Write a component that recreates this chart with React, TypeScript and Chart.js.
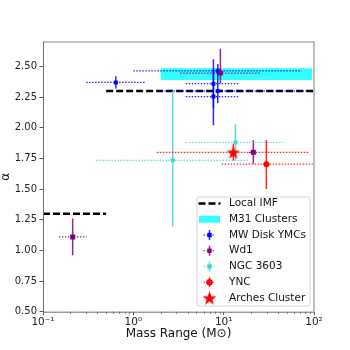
import React, { useEffect, useRef } from "react";
import { Chart, registerables } from "chart.js";
Chart.register(...registerables);

// ---- axis ticks ----
const X_TICKS = [0.1, 1, 10, 100];
const X_TICK_LABELS = ["10\u207B\u00B9", "10\u2070", "10\u00B9", "10\u00B2"];
const Y_TICKS = [0.5, 0.75, 1.0, 1.25, 1.5, 1.75, 2.0, 2.25, 2.5];

// ---- Local IMF ----
const IMF_LOW_X = [0.1, 0.5];
const IMF_LOW_Y = [1.3, 1.3];
const IMF_HIGH_X = [0.5, 100];
const IMF_HIGH_Y = [2.3, 2.3];

// ---- M31 clusters band ----
const M31_X = [2, 95];
const M31_Y_LOW = [2.39, 2.39];
const M31_Y_HIGH = [2.485, 2.485];

// ---- MW Disk YMCs ----
const MW_X = [0.64, 7.7, 7.7, 8.6, 8.6];
const MW_Y = [2.37, 2.36, 2.255, 2.465, 2.3];
const MW_XLO = [0.3, 3.8, 3.8, 1.0, 1.9];
const MW_XHI = [1.37, 15, 15, 73, 95];
const MW_YLO = [2.32, 2.16, 2.02, 2.4, 2.2];
const MW_YHI = [2.42, 2.56, 2.48, 2.52, 2.4];

// ---- Wd1 ----
const WD1_X = [0.213, 9.2, 21.3];
const WD1_Y = [1.11, 2.446, 1.8];
const WD1_XLO = [0.15, 3.3, 19];
const WD1_XHI = [0.305, 25.3, 24];
const WD1_YLO = [0.96, 2.364, 1.706];
const WD1_YHI = [1.26, 2.644, 1.9];

// ---- NGC 3603 ----
const NGC_X = [2.73, 13.5];
const NGC_Y = [1.735, 1.88];
const NGC_XLO = [0.39, 3.84];
const NGC_XHI = [18.8, 45.8];
const NGC_YLO = [1.194, 1.738];
const NGC_YHI = [2.3, 2.032];

// ---- YNC ----
const YNC_X = [29.7];
const YNC_Y = [1.703];
const YNC_XLO = [9.5];
const YNC_XHI = [97];
const YNC_YLO = [1.5];
const YNC_YHI = [1.9];

// ---- Arches ----
const ARCH_X = [12.8];
const ARCH_Y = [1.8];
const ARCH_XLO = [1.82];
const ARCH_XHI = [90];
const ARCH_YLO = [1.733];
const ARCH_YHI = [1.869];

const FONT = "'DejaVu Sans', sans-serif";

type Series = {
  name: string;
  color: string;
  x: number[];
  y: number[];
  xlo: number[];
  xhi: number[];
  ylo: number[];
  yhi: number[];
  marker: string;
};

const SERIES: Series[] = [
  { name: "MW Disk YMCs", color: "#0000ff", x: MW_X, y: MW_Y, xlo: MW_XLO, xhi: MW_XHI, ylo: MW_YLO, yhi: MW_YHI, marker: "rect" },
  { name: "Wd1", color: "#800080", x: WD1_X, y: WD1_Y, xlo: WD1_XLO, xhi: WD1_XHI, ylo: WD1_YLO, yhi: WD1_YHI, marker: "rect" },
  { name: "NGC 3603", color: "#48d1cc", x: NGC_X, y: NGC_Y, xlo: NGC_XLO, xhi: NGC_XHI, ylo: NGC_YLO, yhi: NGC_YHI, marker: "rect" },
  { name: "YNC", color: "#ff0000", x: YNC_X, y: YNC_Y, xlo: YNC_XLO, xhi: YNC_XHI, ylo: YNC_YLO, yhi: YNC_YHI, marker: "circle" },
  { name: "Arches Cluster", color: "#ff0000", x: ARCH_X, y: ARCH_Y, xlo: ARCH_XLO, xhi: ARCH_XHI, ylo: ARCH_YLO, yhi: ARCH_YHI, marker: "star" },
];

const zip = (xs: number[], ys: number[]) => xs.map((x, i) => ({ x, y: ys[i] }));

function makeStar(size: number, color: string) {
  const c = document.createElement("canvas");
  c.width = size;
  c.height = size;
  const g = c.getContext("2d")!;
  const cx = size / 2, cy = size / 2 + 0.6;
  const R = size / 2, r = R * 0.4;
  g.beginPath();
  for (let i = 0; i < 10; i++) {
    const ang = -Math.PI / 2 + (i * Math.PI) / 5;
    const rad = i % 2 === 0 ? R : r;
    const px = cx + rad * Math.cos(ang), py = cy + rad * Math.sin(ang);
    if (i === 0) g.moveTo(px, py); else g.lineTo(px, py);
  }
  g.closePath();
  g.fillStyle = color;
  g.fill();
  return c;
}

function drawErr(ctx: CanvasRenderingContext2D, color: string, px: number, py: number, x0: number, x1: number, y0: number, y1: number) {
  ctx.save();
  ctx.strokeStyle = color;
  ctx.globalAlpha = 0.85;
  ctx.lineWidth = 1.2;
  ctx.setLineDash([1.5, 1.5]);
  ctx.beginPath();
  ctx.moveTo(x0, py);
  ctx.lineTo(x1, py);
  ctx.stroke();
  ctx.setLineDash([]);
  ctx.lineWidth = 1.5;
  ctx.beginPath();
  ctx.moveTo(px, y0);
  ctx.lineTo(px, y1);
  ctx.stroke();
  ctx.restore();
}

export default function App() {
  const ref = useRef<HTMLCanvasElement | null>(null);

  useEffect(() => {
    document.body.style.margin = "0";
    const star = makeStar(14, "#ff0000");
    const starSmall = makeStar(15, "#ff0000");

    const scatterSets = SERIES.map((s) => ({
      type: "scatter" as const,
      label: s.name,
      data: zip(s.x, s.y),
      backgroundColor: s.color,
      borderColor: s.color,
      borderWidth: 0,
      pointStyle: s.marker === "star" ? star : s.marker,
      pointRadius: s.marker === "circle" ? 3 : s.name === "Wd1" ? 3.5 : 2.8,
    }));
    // draw order in Chart.js: highest index drawn first
    const ordered = [...scatterSets].reverse();
    const firstScatterIdx = ordered.length - 1;

    const lineStyle = {
      type: "line" as const,
      showLine: true,
      pointRadius: 0,
      borderColor: "#000",
      borderWidth: 2.5,
      borderDash: [7, 3],
      fill: false,
    };

    const datasets: any[] = [
      ...ordered,
      { type: "line", label: "m31lo", data: zip(M31_X, M31_Y_LOW), showLine: true, pointRadius: 0, borderWidth: 0, borderColor: "rgba(0,0,0,0)", fill: false },
      { type: "line", label: "M31 Clusters", data: zip(M31_X, M31_Y_HIGH), showLine: true, pointRadius: 0, borderWidth: 0, borderColor: "rgba(0,0,0,0)", backgroundColor: "rgba(0,255,255,0.8)", fill: "-1" },
      { ...lineStyle, label: "imfHigh", data: zip(IMF_HIGH_X, IMF_HIGH_Y) },
      { ...lineStyle, label: "Local IMF", data: zip(IMF_LOW_X, IMF_LOW_Y) },
    ];

    const errPlugin = {
      id: "errbars",
      beforeDatasetDraw(chart: any, args: any) {
        if (args.index !== firstScatterIdx) return;
        const xs = chart.scales.x, ys = chart.scales.y;
        const ctx = chart.ctx as CanvasRenderingContext2D;
        const a = chart.chartArea;
        ctx.save();
        ctx.beginPath();
        ctx.rect(a.left, a.top, a.right - a.left, a.bottom - a.top);
        ctx.clip();
        for (const s of SERIES) {
          for (let i = 0; i < s.x.length; i++) {
            drawErr(
              ctx, s.color,
              xs.getPixelForValue(s.x[i]), ys.getPixelForValue(s.y[i]),
              xs.getPixelForValue(s.xlo[i]), xs.getPixelForValue(s.xhi[i]),
              ys.getPixelForValue(s.ylo[i]), ys.getPixelForValue(s.yhi[i])
            );
          }
        }
        ctx.restore();
      },
    };

    const framePlugin = {
      id: "frame",
      afterDatasetsDraw(chart: any) {
        const ctx = chart.ctx as CanvasRenderingContext2D;
        const a = chart.chartArea;
        const xs = chart.scales.x;
        ctx.save();
        // minor ticks on log x axis
        ctx.strokeStyle = "#555";
        ctx.lineWidth = 0.8;
        for (let d = 0; d < X_TICKS.length - 1; d++) {
          for (let k = 2; k <= 9; k++) {
            const px = Math.round(xs.getPixelForValue(X_TICKS[d] * k)) + 0.5;
            ctx.beginPath();
            ctx.moveTo(px, a.bottom);
            ctx.lineTo(px, a.bottom + 2.2);
            ctx.stroke();
          }
        }
        // spines
        ctx.strokeStyle = "#b0b0b0";
        ctx.lineWidth = 1.6;
        ctx.beginPath();
        ctx.moveTo(a.left, a.top);
        ctx.lineTo(a.right, a.top);
        ctx.lineTo(a.right, a.bottom);
        ctx.stroke();
        ctx.strokeStyle = "#6e6e6e";
        ctx.lineWidth = 1;
        ctx.beginPath();
        ctx.moveTo(a.left + 0.5, a.top);
        ctx.lineTo(a.left + 0.5, a.bottom + 0.5);
        ctx.lineTo(a.right, a.bottom + 0.5);
        ctx.stroke();
        ctx.restore();
      },
      afterDraw(chart: any) {
        const ctx = chart.ctx as CanvasRenderingContext2D;
        const a = chart.chartArea;
        const bw = 113, bh = 109;
        const bx = a.right - 4 - bw, by = a.bottom - 5.7 - bh;
        ctx.save();
        ctx.fillStyle = "rgba(255,255,255,0.85)";
        ctx.strokeStyle = "#d6d6d6";
        ctx.lineWidth = 1;
        const r = 2;
        ctx.beginPath();
        ctx.moveTo(bx + r, by);
        ctx.lineTo(bx + bw - r, by);
        ctx.arcTo(bx + bw, by, bx + bw, by + r, r);
        ctx.lineTo(bx + bw, by + bh - r);
        ctx.arcTo(bx + bw, by + bh, bx + bw - r, by + bh, r);
        ctx.lineTo(bx + r, by + bh);
        ctx.arcTo(bx, by + bh, bx, by + bh - r, r);
        ctx.lineTo(bx, by + r);
        ctx.arcTo(bx, by, bx + r, by, r);
        ctx.closePath();
        ctx.fill();
        ctx.stroke();

        const hx = bx + 12.5; // handle center
        const tx = bx + 32;
        const row0 = by + 6.5;
        const step = 15.75;
        const labels = ["Local IMF", "M31 Clusters", ...SERIES.map((s) => s.name)];
        ctx.font = `10.5px ${FONT}`;
        ctx.textBaseline = "middle";
        ctx.fillStyle = "#111";
        labels.forEach((lab, i) => ctx.fillText(lab, tx, row0 + i * step));

        // Local IMF
        let cy = row0;
        ctx.strokeStyle = "#000";
        ctx.lineWidth = 2.5;
        ctx.setLineDash([7, 3]);
        ctx.beginPath();
        ctx.moveTo(hx - 11, cy);
        ctx.lineTo(hx + 11, cy);
        ctx.stroke();
        ctx.setLineDash([]);
        // M31
        cy = row0 + step;
        ctx.fillStyle = "rgba(0,255,255,0.8)";
        ctx.fillRect(hx - 10.5, cy - 3.5, 21, 7);
        // error-bar series
        SERIES.forEach((s, i) => {
          const y = row0 + (i + 2) * step;
          if (s.marker !== "star") {
            drawErr(ctx, s.color, hx, y, hx - 6, hx + 6, y - 5, y + 5);
          }
          ctx.fillStyle = s.color;
          if (s.marker === "rect") {
            ctx.fillRect(hx - 2.2, y - 2.2, 4.4, 4.4);
          } else if (s.marker === "circle") {
            ctx.beginPath();
            ctx.arc(hx, y, 3.2, 0, Math.PI * 2);
            ctx.fill();
          } else {
            ctx.drawImage(starSmall, hx - 7.5, y - 7.5);
          }
        });
        ctx.restore();
      },
    };

    const chart = new Chart(ref.current!, {
      type: "scatter",
      data: { datasets },
      options: {
        animation: false,
        responsive: true,
        maintainAspectRatio: false,
        layout: { padding: { top: 42, right: 36, left: 0, bottom: 0 } },
        plugins: { legend: { display: false }, tooltip: { enabled: false } },
        scales: {
          x: {
            type: "logarithmic",
            min: 0.1,
            max: 100,
            afterBuildTicks: (s: any) => {
              s.ticks = X_TICKS.map((v) => ({ value: v }));
            },
            afterFit: (s: any) => {
              s.height = 38.3;
            },
            grid: { display: true, drawOnChartArea: false, drawTicks: true, tickLength: 3.5, color: "#555" },
            border: { display: false },
            ticks: {
              autoSkip: false,
              maxRotation: 0,
              padding: 1,
              color: "#222",
              font: { family: FONT, size: 10.5 },
              callback: (_v: any, i: number) => X_TICK_LABELS[i],
            },
            title: {
              display: true,
              text: "Mass Range (M\u2299)",
              color: "#111",
              font: { family: FONT, size: 12 },
              padding: { top: 0, bottom: 9 },
            },
          },
          y: {
            type: "linear",
            min: 0.5,
            max: 2.7,
            afterBuildTicks: (s: any) => {
              s.ticks = Y_TICKS.map((v) => ({ value: v }));
            },
            afterFit: (s: any) => {
              s.width = 43;
            },
            grid: { display: true, drawOnChartArea: false, drawTicks: true, tickLength: 3.5, color: "#555" },
            border: { display: false },
            ticks: {
              autoSkip: false,
              padding: 2.5,
              color: "#222",
              font: { family: FONT, size: 10 },
              callback: (v: any) => Number(v).toFixed(2),
            },
            title: {
              display: true,
              text: "\u03B1",
              color: "#111",
              font: { family: FONT, size: 12, lineHeight: 0.9 },
              padding: { top: 0, bottom: 0 },
            },
          },
        },
      } as any,
      plugins: [errPlugin, framePlugin],
    });
    return () => chart.destroy();
  }, []);

  return (
    <div style={{ width: 350, height: 350, position: "relative" }}>
      <canvas ref={ref} />
    </div>
  );
}
